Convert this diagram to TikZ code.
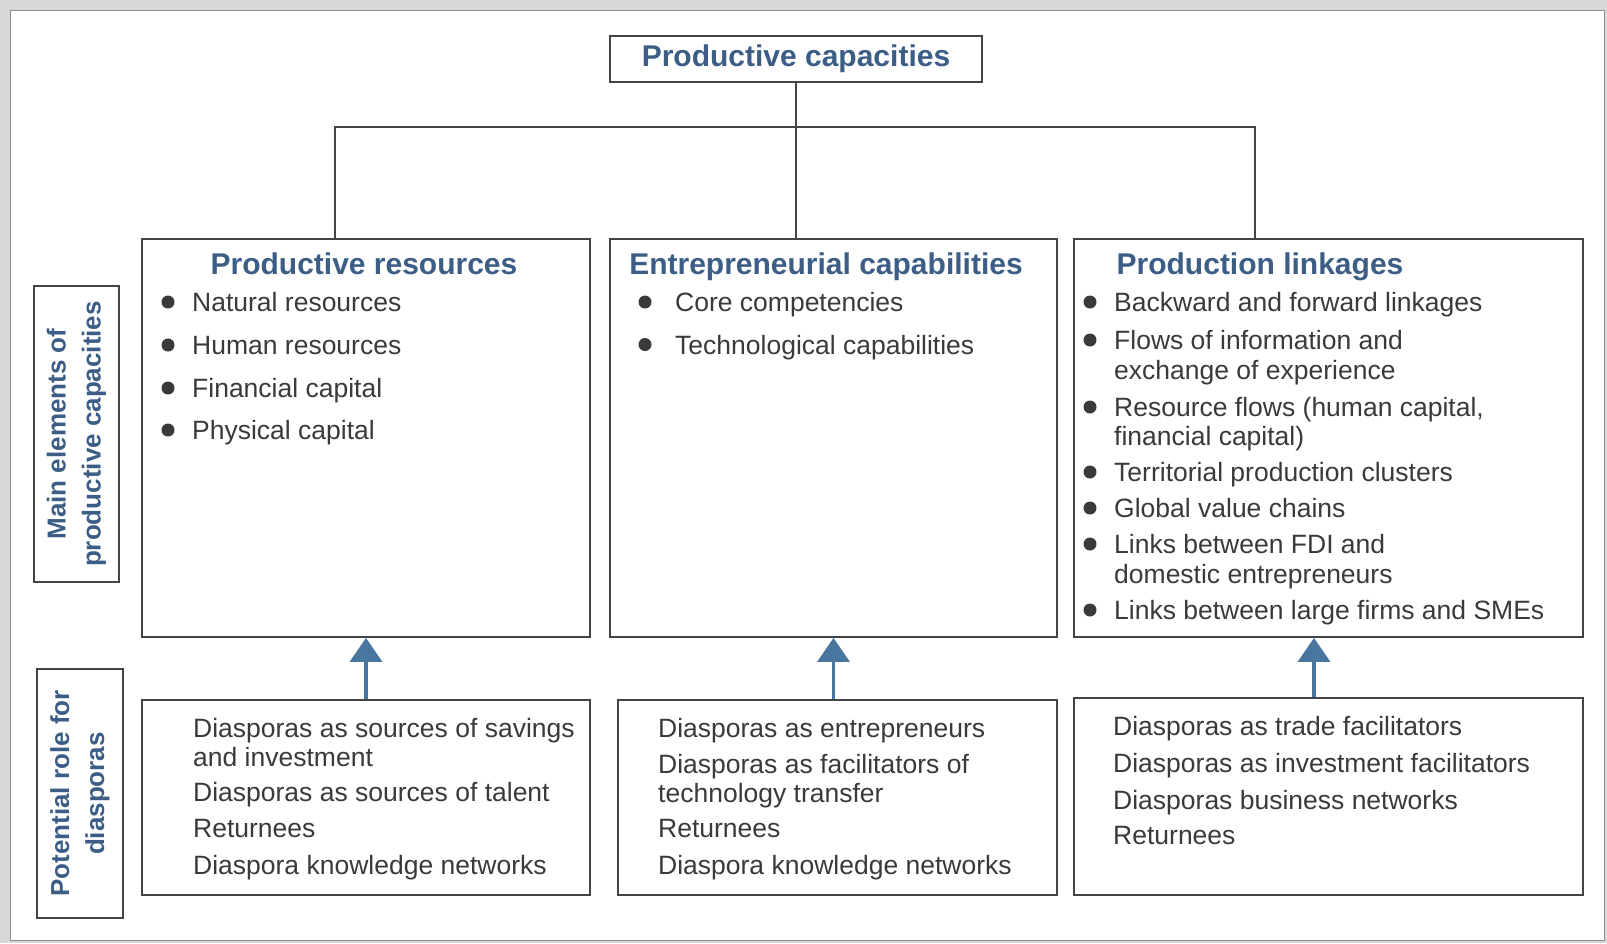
\documentclass[tikz,border=0pt]{standalone}
\usepackage{fontspec}
\setmainfont{Liberation Sans}
\usetikzlibrary{arrows.meta}

\definecolor{titleblue}{RGB}{60,94,134}
\definecolor{arrowblue}{RGB}{72,118,158}
\definecolor{txtgrey}{RGB}{58,58,58}
\definecolor{linegrey}{RGB}{68,68,68}
\definecolor{scan}{RGB}{216,216,216}

\tikzset{
  box/.style={draw=linegrey, line width=1.8pt, fill=white, inner sep=0pt},
  title/.style={text=titleblue, font=\bfseries\fontsize{30}{34}\selectfont, inner sep=0pt},
  sidelabel/.style={box, rotate=90, align=center, text=titleblue, font=\bfseries\fontsize{26}{35}\selectfont},
  item/.style={text=txtgrey, font=\fontsize{26.5}{30}\selectfont, inner sep=0pt, anchor=mid west, yshift=-7pt},
  bul/.style={fill=txtgrey},
  link/.style={draw=linegrey, line width=2.6pt},
  uparrow/.style={draw=arrowblue, line width=3.5pt, -{Triangle[width=32pt,length=24pt]}},
}

\begin{document}
\begin{tikzpicture}[x=1pt, y=-1pt]
        \useasboundingbox[fill=scan] (0,0) rectangle (1607,943);
        \draw[linegrey!60, line width=1pt, fill=white] (10,10) rectangle (1604,940);

        \coordinate (L) at (335,127);
        \coordinate (R) at (1255,127);
        \coordinate (K) at (1314,0);

        \node[box, minimum width=372, minimum height=46, title] (PC) at (796,59) {Productive capacities};

        \node[box, minimum width=448, minimum height=398] (PR) at (366,438) {};
        \node[box, minimum width=447, minimum height=398] (EC) at (833.5,438) {};
        \node[box, minimum width=509, minimum height=398] (PL) at (1328.5,438) {};

        \node[box, minimum width=448, minimum height=195] (DR) at (366,797.5) {};
        \node[box, minimum width=439, minimum height=195] (DE) at (837.5,797.5) {};
        \node[box, minimum width=509, minimum height=197] (DL) at (1328.5,796.5) {};

        \node[sidelabel, minimum width=296, minimum height=85] (ME) at (76.5,434) {Main elements of\\productive capacities};
        \node[sidelabel, minimum width=249, minimum height=86] (PD) at (80,793.5) {Potential role for\\diasporas};

        \draw[link] (PC.south) -- (PC.south |- EC.north);
        \draw[link] (L |- PR.north) -- (L) -- (R) -- (R |- PL.north);

        \draw[uparrow] (DR.north) -- (PR.south);
        \draw[uparrow] (EC.south |- DE.north) -- (EC.south);
        \draw[uparrow] (K |- DL.north) -- (K |- PL.south);

        \node[title, anchor=base] (tPR) at (364,274) {Productive resources};
        \node[title, anchor=base] (tEC) at (826,274) {Entrepreneurial capabilities};
        \node[title, anchor=base] (tPL) at (1260,274) {Production linkages};

        \fill[bul] (168,302) circle (6.5);
        \fill[bul] (168,345) circle (6.5);
        \fill[bul] (168,388) circle (6.5);
        \fill[bul] (168,430) circle (6.5);
        \node[item] (r1) at (192,302) {Natural resources};
        \node[item] (r2) at (192,345) {Human resources};
        \node[item] (r3) at (192,388) {Financial capital};
        \node[item] (r4) at (192,430) {Physical capital};

        \fill[bul] (645,302) circle (6.5);
        \fill[bul] (645,344.5) circle (6.5);
        \node[item] (c1) at (675,302) {Core competencies};
        \node[item] (c2) at (675,344.5) {Technological capabilities};

        \fill[bul] (1090,302) circle (6.5);
        \fill[bul] (1090,340) circle (6.5);
        \fill[bul] (1090,407) circle (6.5);
        \fill[bul] (1090,472) circle (6.5);
        \fill[bul] (1090,508) circle (6.5);
        \fill[bul] (1090,544) circle (6.5);
        \fill[bul] (1090,610) circle (6.5);
        \node[item] (k1) at (1114,302) {Backward and forward linkages};
        \node[item] (k2) at (1114,340) {Flows of information and};
        \node[item] (k2b) at (1114,370) {exchange of experience};
        \node[item] (k3) at (1114,407) {Resource flows (human capital,};
        \node[item] (k3b) at (1114,435.5) {financial capital)};
        \node[item] (k4) at (1114,472) {Territorial production clusters};
        \node[item] (k5) at (1114,508) {Global value chains};
        \node[item] (k6) at (1114,544) {Links between FDI and};
        \node[item] (k6b) at (1114,574) {domestic entrepreneurs};
        \node[item] (k7) at (1114,610) {Links between large firms and SMEs};

        \node[item] (d1) at (193,728) {Diasporas as sources of savings};
        \node[item] (d1b) at (193,756.5) {and investment};
        \node[item] (d2) at (193,792) {Diasporas as sources of talent};
        \node[item] (d3) at (193,828) {Returnees};
        \node[item] (d4) at (193,864.5) {Diaspora knowledge networks};

        \node[item] (e1) at (658,728) {Diasporas as entrepreneurs};
        \node[item] (e2) at (658,764) {Diasporas as facilitators of};
        \node[item] (e2b) at (658,793) {technology transfer};
        \node[item] (e3) at (658,828) {Returnees};
        \node[item] (e4) at (658,865) {Diaspora knowledge networks};

        \node[item] (l1) at (1113,726) {Diasporas as trade facilitators};
        \node[item] (l2) at (1113,763) {Diasporas as investment facilitators};
        \node[item] (l3) at (1113,800) {Diasporas business networks};
        \node[item] (l4) at (1113,835) {Returnees};
\end{tikzpicture}
\end{document}
